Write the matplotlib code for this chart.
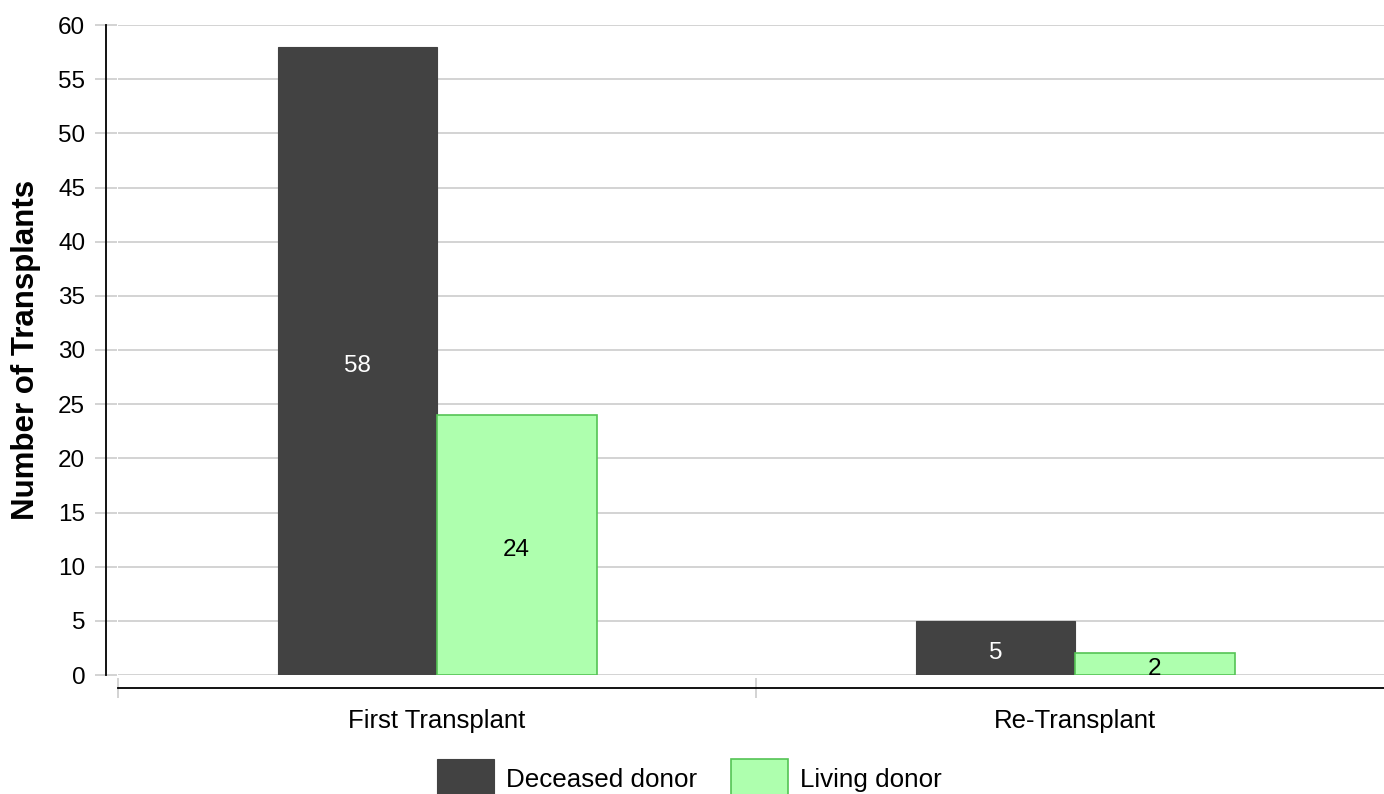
import numpy as np
import matplotlib.pyplot as plt
from matplotlib.ticker import FixedLocator

plt.rcParams['font.family'] = ['Liberation Sans', 'DejaVu Sans']

categories = ['First Transplant', 'Re-Transplant']
deceased = [58, 5]
living = [24, 2]
series_names = ['Deceased donor', 'Living donor']

W, H = 1384, 794
fig = plt.figure(figsize=(W / 100, H / 100), dpi=100)
ax = fig.add_axes([118 / W, (H - 675) / H, (W - 118) / W, 650 / H])

r = np.arange(len(categories))
barWidth = 0.25
dark = '#424242'
green = '#aeffae'
green_edge = '#55c455'

b1 = ax.bar(r - barWidth / 2, deceased, width=barWidth, color=dark, edgecolor=dark,
            linewidth=0.8, label=series_names[0], zorder=3)
b2 = ax.bar(r + barWidth / 2, living, width=barWidth, color=green, edgecolor=green_edge,
            linewidth=1.2, label=series_names[1], zorder=3)

# value labels in the middle of each bar
for bars, col in [(b1, 'white'), (b2, 'black')]:
    for rect in bars:
        ax.annotate(f'{rect.get_height():g}',
                    (rect.get_x() + rect.get_width() / 2, rect.get_height() / 2),
                    xytext=(0, -3.5), textcoords='offset points',
                    ha='center', va='center', color=col, fontsize=17.5, zorder=4)

# axis ranges: one category band = 638 px
ax.set_xlim(-0.5, (W - 118) / 638 - 0.5)
ax.set_ylim(0, 60)
ax.set_yticks(np.arange(0, 61, 5))
ax.grid(axis='y', color='#c8c8c8', linewidth=1.1, zorder=0)
ax.set_axisbelow(True)

ax.set_xticks(r)
ax.set_xticklabels(categories)
ax.xaxis.set_minor_locator(FixedLocator([-0.5, 0.5, 1.5]))
ax.tick_params(axis='x', which='major', length=0, pad=15, labelsize=18.5)
ax.tick_params(axis='x', which='minor', direction='inout', length=15, width=1.1, color='#c8c8c8')
ax.tick_params(axis='y', direction='inout', length=16, width=1.1, color='#c8c8c8',
               labelsize=17.5, pad=7)

for s in ['top', 'right']:
    ax.spines[s].set_visible(False)
ax.spines['left'].set_position(('outward', 8.6))
ax.spines['bottom'].set_position(('outward', 9.4))
ax.spines['left'].set_linewidth(1.3)
ax.spines['bottom'].set_linewidth(1.3)

ax.set_ylabel('Number of Transplants', fontsize=22.5, fontweight='bold')
ax.yaxis.set_label_coords(-0.061, 0.5)

fig.legend(handles=[b1, b2], labels=series_names, loc='upper left',
           bbox_to_anchor=(437 / W, 1 - 759 / H), ncol=2, frameon=False,
           fontsize=18.7, borderpad=0, borderaxespad=0, handlelength=2.2,
           handleheight=1.9, handletextpad=0.45, columnspacing=1.3)

plt.savefig('out.png', dpi=100)
